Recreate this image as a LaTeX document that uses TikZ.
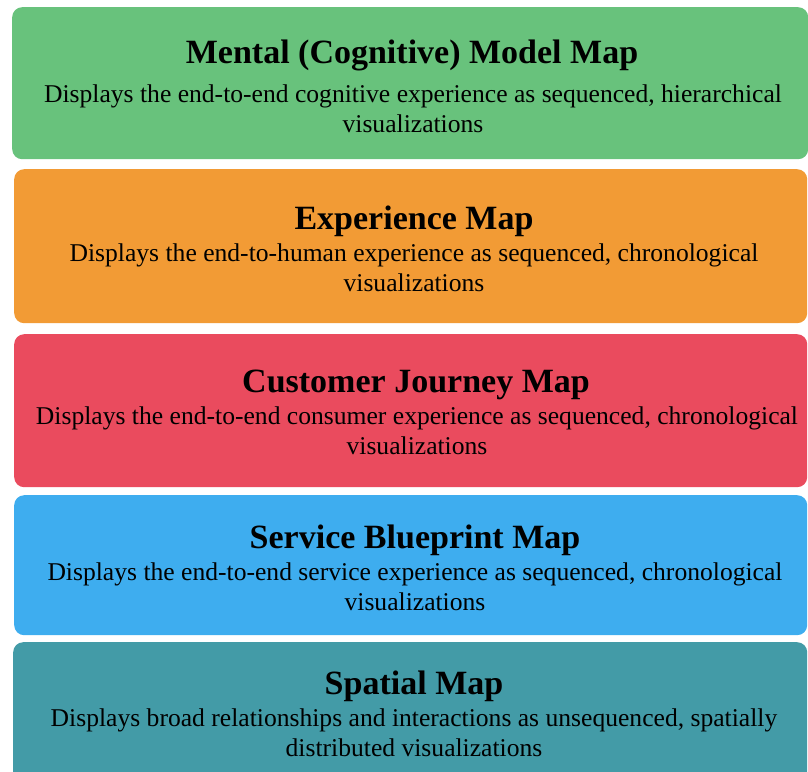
\documentclass[tikz,border=0pt]{standalone}
\usepackage{fontspec}
\setmainfont{Liberation Serif}
\usepackage{xcolor}
\usetikzlibrary{positioning}

\definecolor{mentalgreen}{HTML}{68C27C}
\definecolor{experienceorange}{HTML}{F29B35}
\definecolor{journeyred}{HTML}{EA4B5E}
\definecolor{blueprintblue}{HTML}{3EADEF}
\definecolor{spatialteal}{HTML}{439BA7}

\begin{document}
\begin{tikzpicture}[x=1pt, y=-1pt,
    mapbox/.style={rounded corners=10pt, inner sep=0pt, anchor=north west, minimum width=793pt},
    maptitle/.style={font=\fontsize{34}{38}\selectfont\bfseries, inner sep=0pt},
    mapdesc/.style={font=\fontsize{25.6}{30}\selectfont, align=center, inner sep=0pt}]
    \clip (0,0) rectangle (808,771);
    \useasboundingbox (0,0) rectangle (808,771);

    % Mental model map
    \node[mapbox, fill=mentalgreen, minimum width=796pt, minimum height=152pt] (mental_box) at (12,7) {};
    \node[maptitle] (mental_title) at (412,55) {Mental (Cognitive) Model Map};
    \node[mapdesc] (mental_desc) at (413,109) {Displays the end-to-end cognitive experience as sequenced, hierarchical\\visualizations};

    % Experience map
    \node[mapbox, fill=experienceorange, minimum height=154pt] (exp_box) at (14,169) {};
    \node[maptitle] (exp_title) at (414,221) {Experience Map};
    \node[mapdesc] (exp_desc) at (414,268) {Displays the end-to-human experience as sequenced, chronological\\visualizations};

    % Customer journey map
    \node[mapbox, fill=journeyred, minimum height=153pt] (journey_box) at (14,334) {};
    \node[maptitle] (journey_title) at (416,385) {Customer Journey Map};
    \node[mapdesc] (journey_desc) at (417,431) {Displays the end-to-end consumer experience as sequenced, chronological\\visualizations};

    % Service blueprint map
    \node[mapbox, fill=blueprintblue, minimum height=140pt] (blueprint_box) at (14,495) {};
    \node[maptitle] (blueprint_title) at (415,540) {Service Blueprint Map};
    \node[mapdesc] (blueprint_desc) at (415,587) {Displays the end-to-end service experience as sequenced, chronological\\visualizations};

    % Spatial map (runs past the bottom edge)
    \node[mapbox, fill=spatialteal, minimum width=794pt, minimum height=150pt] (spatial_box) at (13,642) {};
    \node[maptitle] (spatial_title) at (414,686) {Spatial Map};
    \node[mapdesc] (spatial_desc) at (414,733) {Displays broad relationships and interactions as unsequenced, spatially\\distributed visualizations};
\end{tikzpicture}
\end{document}
